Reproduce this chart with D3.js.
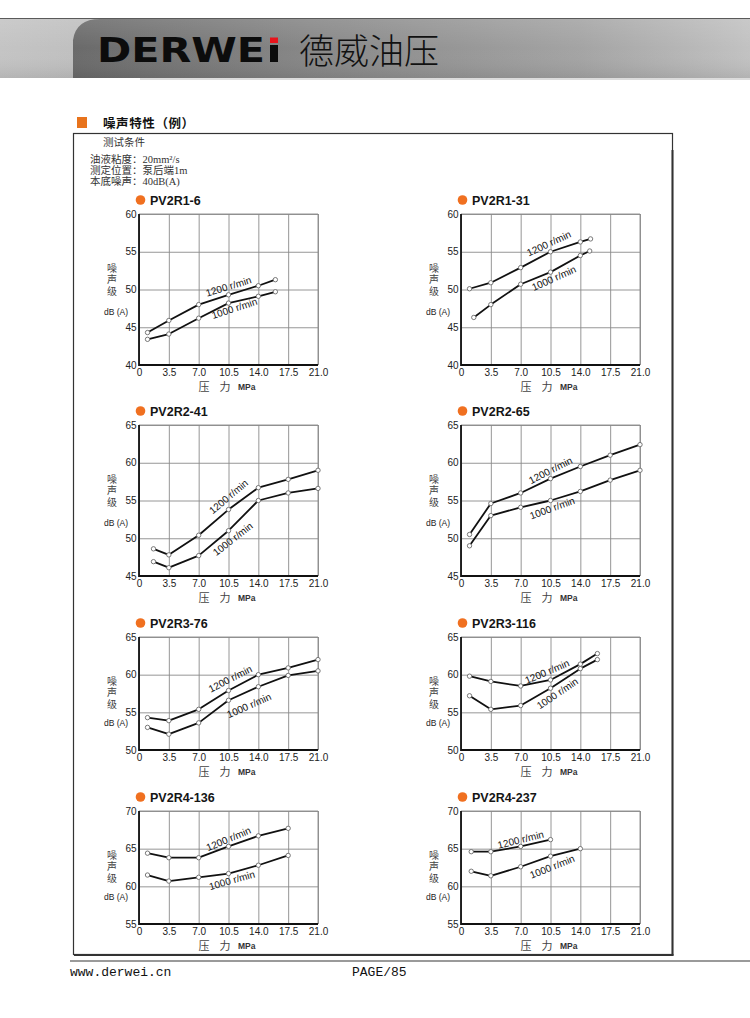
<!DOCTYPE html>
<html>
<head>
<meta charset="utf-8">
<script src="https://cdn.jsdelivr.net/npm/d3@7"></script>
<style>
  html,body{margin:0;padding:0;background:#fff;}
  svg{display:block;}
</style>
</head>
<body>
<script>
// ---------- DATA ----------
const pressureTicks = [0, 3.5, 7, 10.5, 14, 17.5, 21];
const pressureTickLabels = ["0", "3.5", "7.0", "10.5", "14.0", "17.5", "21.0"];
const models = ["PV2R1-6", "PV2R1-31", "PV2R2-41", "PV2R2-65", "PV2R3-76", "PV2R3-116", "PV2R4-136", "PV2R4-237"];
const noiseDomains = [[40, 60], [40, 60], [45, 65], [45, 65], [50, 65], [50, 65], [55, 70], [55, 70]];

const pressure1200 = [
  [1, 3.5, 7, 10.5, 14, 16],
  [1, 3.5, 7, 10.5, 14, 15.2],
  [1.7, 3.5, 7, 10.5, 14, 17.5, 21],
  [1, 3.5, 7, 10.5, 14, 17.5, 21],
  [1, 3.5, 7, 10.5, 14, 17.5, 21],
  [1, 3.5, 7, 10.5, 14, 16],
  [1, 3.5, 7, 10.5, 14, 17.5],
  [1.2, 3.5, 7, 10.5]
];
const noise1200 = [
  [44.3, 45.9, 48.0, 49.3, 50.5, 51.3],
  [50.1, 50.9, 52.9, 55.0, 56.3, 56.7],
  [48.6, 47.8, 50.4, 53.8, 56.7, 57.8, 59.0],
  [50.5, 54.6, 56.0, 57.9, 59.5, 61.0, 62.4],
  [54.3, 53.9, 55.4, 57.9, 60.0, 60.9, 62.0],
  [59.8, 59.1, 58.5, 59.3, 61.4, 62.8],
  [64.4, 63.8, 63.8, 65.3, 66.7, 67.7],
  [64.6, 64.6, 65.3, 66.2]
];
const pressure1000 = [
  [1, 3.5, 7, 10.5, 14, 16],
  [1.5, 3.5, 7, 10.5, 14, 15.1],
  [1.7, 3.5, 7, 10.5, 14, 17.5, 21],
  [1, 3.5, 7, 10.5, 14, 17.5, 21],
  [1, 3.5, 7, 10.5, 14, 17.5, 21],
  [1, 3.5, 7, 10.5, 14, 16],
  [1, 3.5, 7, 10.5, 14, 17.5],
  [1.2, 3.5, 7, 10.5, 14]
];
const noise1000 = [
  [43.4, 44.1, 46.2, 48.2, 49.1, 49.7],
  [46.3, 48.0, 50.7, 52.3, 54.5, 55.1],
  [46.9, 46.1, 47.7, 51.0, 55.0, 56.0, 56.6],
  [49.0, 53.0, 54.1, 55.0, 56.2, 57.7, 59.0],
  [53.0, 52.1, 53.6, 56.6, 58.4, 59.9, 60.5],
  [57.2, 55.4, 55.9, 58.2, 60.8, 62.0],
  [61.5, 60.7, 61.2, 61.7, 62.8, 64.1],
  [62.0, 61.4, 62.6, 64.0, 65.0]
];
const speedLabels = ["1200 r/min", "1000 r/min"];
// curve label anchors in data units [pressure, noise, angle]
const label1200At = [[10.5, 50.4, -17], [10.3, 56.1, -25], [10.5, 55.5, -40], [10.5, 59.0, -27], [10.7, 59.45, -27], [10.1, 60.4, -23], [10.5, 66.3, -23], [7.0, 66.2, -14]];
const label1000At = [[11.2, 47.5, -18], [10.9, 51.5, -24], [11.0, 49.9, -38], [10.7, 54.0, -20], [12.9, 55.9, -24], [11.3, 57.5, -34], [10.9, 60.8, -16], [10.7, 62.6, -22]];

// ---------- LAYOUT ----------
const W = 750, H = 1018;
const colLefts = [139, 461];
const rowTops = [214, 425, 637, 811];
const rowHeights = [151, 151, 113, 113];
const plotW = 179;
const orange = "#f07020";
const cjkSerif = "'Liberation Serif','Noto Sans CJK SC',serif";
const sans = "'Liberation Sans',Arial,sans-serif";

const svg = d3.select("body").append("svg").attr("width", W).attr("height", H);
const defs = svg.append("defs");

// header gradients
const g1 = defs.append("linearGradient").attr("id", "hdrL").attr("x1", 0).attr("x2", 1).attr("y1", 0).attr("y2", 0);
g1.append("stop").attr("offset", 0).attr("stop-color", "#c4c4c4");
g1.append("stop").attr("offset", 1).attr("stop-color", "#9a9a9a");
const g2 = defs.append("linearGradient").attr("id", "hdrM").attr("x1", 0).attr("x2", 1).attr("y1", 0).attr("y2", 0);
g2.append("stop").attr("offset", 0).attr("stop-color", "#6a6a6a");
g2.append("stop").attr("offset", 0.35).attr("stop-color", "#878787");
g2.append("stop").attr("offset", 0.75).attr("stop-color", "#a4a4a4");
g2.append("stop").attr("offset", 1).attr("stop-color", "#c2c2c2");
const g3 = defs.append("linearGradient").attr("id", "hdrV").attr("x1", 0).attr("x2", 0).attr("y1", 0).attr("y2", 1);
g3.append("stop").attr("offset", 0).attr("stop-color", "#fff").attr("stop-opacity", 0.12);
g3.append("stop").attr("offset", 0.5).attr("stop-color", "#fff").attr("stop-opacity", 0);
g3.append("stop").attr("offset", 1).attr("stop-color", "#000").attr("stop-opacity", 0.08);

// ---------- HEADER ----------
const hdr = svg.append("g");
hdr.append("rect").attr("x", 0).attr("y", 18).attr("width", W).attr("height", 60).attr("fill", "url(#hdrL)");
hdr.append("path")
  .attr("d", "M 73 78 L 73 40 Q 76 19 100 19 L 750 19 L 750 78 Z")
  .attr("fill", "url(#hdrM)");
hdr.append("rect").attr("x", 0).attr("y", 18).attr("width", W).attr("height", 60).attr("fill", "url(#hdrV)");
hdr.append("line").attr("x1", 0).attr("x2", W).attr("y1", 18.5).attr("y2", 18.5).attr("stroke", "#5a5a5a").attr("stroke-width", 1);
hdr.append("rect").attr("x", 140).attr("y", 78).attr("width", 610).attr("height", 2).attr("fill", "#dcdcdc");

hdr.append("text").attr("x", 97).attr("y", 62)
  .attr("font-family", "'DejaVu Sans',sans-serif").attr("font-weight", "bold").attr("font-size", 33)
  .attr("textLength", 168).attr("lengthAdjust", "spacingAndGlyphs")
  .attr("fill", "#0c0c0c").text("DERWE");
hdr.append("rect").attr("x", 270).attr("y", 45).attr("width", 8).attr("height", 17).attr("fill", "#0c0c0c");
hdr.append("rect").attr("x", 270).attr("y", 37.5).attr("width", 8).attr("height", 5.5).attr("fill", "#e8141c");
hdr.append("text").attr("x", 299).attr("y", 64)
  .attr("font-family", "'Noto Sans CJK SC',sans-serif").attr("font-weight", 300).attr("font-size", 35)
  .attr("fill", "#111").text("德威油压");

// ---------- SECTION HEADING ----------
svg.append("rect").attr("x", 77).attr("y", 117).attr("width", 10).attr("height", 11).attr("fill", "#e8731c");
svg.append("text").attr("x", 103).attr("y", 127.5)
  .attr("font-family", "'Noto Sans CJK SC',sans-serif").attr("font-weight", "bold").attr("font-size", 12.5)
  .attr("letter-spacing", 0.6)
  .attr("fill", "#111").text("噪声特性（例）");

// box
svg.append("rect").attr("x", 73.5).attr("y", 133.5).attr("width", 599).attr("height", 821)
  .attr("fill", "none").attr("stroke", "#333").attr("stroke-width", 1.2);
svg.append("line").attr("x1", 672.5).attr("x2", 672.5).attr("y1", 150).attr("y2", 955.5).attr("stroke", "#333").attr("stroke-width", 2);
svg.append("line").attr("x1", 74).attr("x2", 673.5).attr("y1", 955).attr("y2", 955).attr("stroke", "#333").attr("stroke-width", 1.8);

// test conditions
const cond = svg.append("g").attr("font-family", cjkSerif).attr("font-size", 10.5).attr("fill", "#333");
cond.append("text").attr("x", 103).attr("y", 146).text("测试条件");
const condLines = ["油液粘度：20mm²/s", "测定位置：泵后端1m", "本底噪声：40dB(A)"];
cond.selectAll("text.c").data(condLines).enter().append("text").attr("class", "c")
  .attr("x", 90).attr("y", (d, i) => 163 + i * 11).text(d => d);

// ---------- PANELS ----------
models.forEach((name, i) => {
  const col = i % 2, row = Math.floor(i / 2);
  const left = colLefts[col], top = rowTops[row], h = rowHeights[row];
  const dom = noiseDomains[i];
  const x = d3.scaleLinear().domain([0, 21]).range([left, left + plotW]);
  const y = d3.scaleLinear().domain(dom).range([top + h, top]);
  const yTicks = d3.range(dom[0], dom[1] + 0.01, 5);
  const g = svg.append("g");

  // grid + tick labels via axes
  const xAxis = d3.axisBottom(x).tickValues(pressureTicks)
    .tickFormat((d, k) => pressureTickLabels[k]).tickSizeInner(-h).tickSizeOuter(0).tickPadding(3.5);
  const gx = g.append("g").attr("transform", `translate(0,${top + h})`).call(xAxis);
  const yAxis = d3.axisLeft(y).tickValues(yTicks).tickSizeInner(-plotW).tickSizeOuter(0).tickPadding(2.5);
  const gy = g.append("g").attr("transform", `translate(${left},0)`).call(yAxis);
  [gx, gy].forEach(a => {
    a.select(".domain").remove();
    a.selectAll(".tick line").attr("stroke", "#8a8a8a").attr("stroke-width", 0.9);
    a.selectAll(".tick text").attr("font-family", sans).attr("font-size", 10).attr("fill", "#222");
  });

  // frame
  g.append("line").attr("x1", x(21)).attr("x2", x(21)).attr("y1", y(dom[0])).attr("y2", y(dom[1])).attr("stroke", "#8a8a8a").attr("stroke-width", 0.9);
  g.append("line").attr("x1", x(0)).attr("x2", x(21)).attr("y1", y(dom[1])).attr("y2", y(dom[1])).attr("stroke", "#8a8a8a").attr("stroke-width", 0.9);
  g.append("line").attr("x1", x(0)).attr("x2", x(0)).attr("y1", y(dom[0]) + 1).attr("y2", y(dom[1])).attr("stroke", "#111").attr("stroke-width", 1.8);
  g.append("line").attr("x1", x(0)).attr("x2", x(21)).attr("y1", y(dom[0])).attr("y2", y(dom[0])).attr("stroke", "#111").attr("stroke-width", 1.8);

  // title
  g.append("circle").attr("cx", left + 1.5).attr("cy", top - 14).attr("r", 4.8).attr("fill", orange);
  g.append("text").attr("x", left + 11).attr("y", top - 14).attr("dy", "0.36em")
    .attr("font-family", sans).attr("font-weight", "bold").attr("font-size", 12.5).attr("fill", "#151515").text(name);

  // y label
  const small = h < 130;
  const c0 = small ? 44 : 54;
  ["噪", "声", "级"].forEach((ch, k) => {
    g.append("text").attr("x", left - 27).attr("y", top + c0 + k * 11.5).attr("dy", "0.36em")
      .attr("text-anchor", "middle").attr("font-family", cjkSerif).attr("font-size", 10).attr("fill", "#444").text(ch);
  });
  g.append("text").attr("x", left - 23).attr("y", top + (small ? 86 : 98)).attr("dy", "0.36em")
    .attr("text-anchor", "middle").attr("font-family", sans).attr("font-size", 8.5).attr("fill", "#222").text("dB (A)");

  // x title
  const ty = top + h + 22;
  g.append("text").attr("x", left + 65).attr("y", ty).attr("dy", "0.36em").attr("text-anchor", "middle")
    .attr("font-family", cjkSerif).attr("font-size", 11).attr("fill", "#444").text("压");
  g.append("text").attr("x", left + 86).attr("y", ty).attr("dy", "0.36em").attr("text-anchor", "middle")
    .attr("font-family", cjkSerif).attr("font-size", 11).attr("fill", "#444").text("力");
  g.append("text").attr("x", left + 99).attr("y", ty).attr("dy", "0.36em")
    .attr("font-family", sans).attr("font-weight", "bold").attr("font-size", 8.5).attr("fill", "#333").text("MPa");

  // curves
  const line = d3.line().x(d => x(d[0])).y(d => y(d[1]));
  const series = [
    d3.zip(pressure1200[i], noise1200[i]),
    d3.zip(pressure1000[i], noise1000[i])
  ];
  series.forEach(pts => {
    g.append("path").datum(pts).attr("d", line).attr("fill", "none").attr("stroke", "#111").attr("stroke-width", 1.8)
      .attr("stroke-linejoin", "round");
  });
  series.forEach(pts => {
    g.selectAll(null).data(pts).enter().append("circle")
      .attr("cx", d => x(d[0])).attr("cy", d => y(d[1])).attr("r", 2.2)
      .attr("fill", "#fff").attr("stroke", "#6a6a6a").attr("stroke-width", 0.9);
  });
  [label1200At[i], label1000At[i]].forEach((a, k) => {
    const px = x(a[0]), py = y(a[1]);
    g.append("text").attr("transform", `translate(${px},${py}) rotate(${a[2]})`)
      .attr("text-anchor", "middle").attr("dy", "0.35em")
      .attr("font-family", sans).attr("font-size", 10).attr("fill", "#111").text(speedLabels[k]);
  });
});

// ---------- FOOTER ----------
svg.append("line").attr("x1", 70).attr("x2", W).attr("y1", 961).attr("y2", 961).attr("stroke", "#9a9a9a").attr("stroke-width", 2);
const foot = svg.append("g").attr("font-family", "'Liberation Mono','DejaVu Sans Mono',monospace").attr("font-size", 13).attr("fill", "#111");
foot.append("text").attr("x", 70).attr("y", 976).text("www.derwei.cn");
foot.append("text").attr("x", 352).attr("y", 976).text("PAGE/85");
</script>
</body>
</html>
